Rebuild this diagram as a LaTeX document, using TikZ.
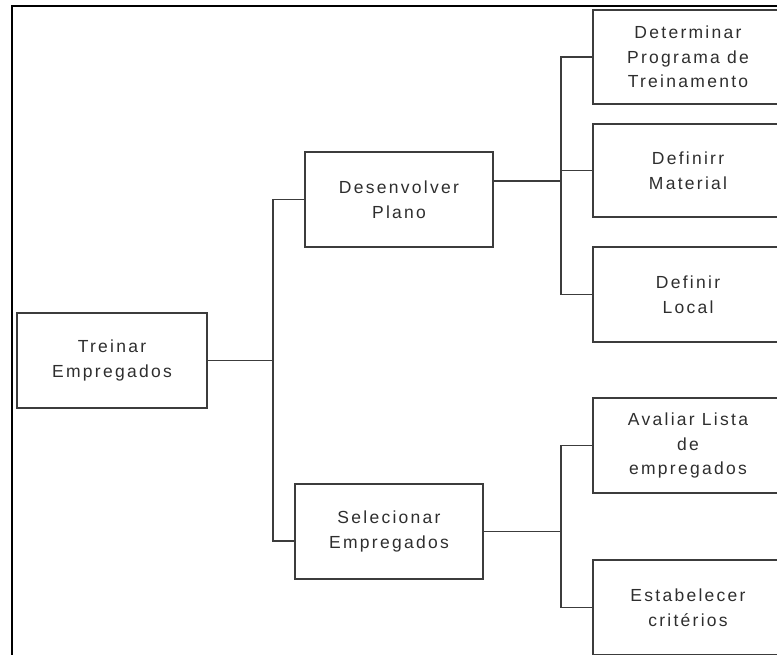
\documentclass[tikz,border=0pt]{standalone}
\usepackage{fontspec}
\setmainfont{Liberation Sans}[LetterSpace=13]
\definecolor{boxgray}{HTML}{3C3C3C}
\definecolor{textgray}{HTML}{2E2E2E}
\begin{document}
\begin{tikzpicture}[x=1pt,y=-1pt,
  box/.style={draw=boxgray, line width=1.3pt, minimum width=190pt, minimum height=95pt,
    inner sep=0pt, align=center, text=textgray, font=\fontsize{17.5}{24.5}\selectfont},
  link/.style={draw=boxgray, line width=1.3pt},
  frame/.style={draw=black, line width=2pt}]
\useasboundingbox (0,0) rectangle (777,654);
\clip (0,0) rectangle (777,654);

% outer frame (top and left edges)
\draw[frame] (12,660) -- (12,6) -- (790,6);

% boxes
\node[box] (treinar) at (112,360.5) {Treinar\\Empregados};
\node[box, minimum width=188pt] (desenv) at (399,199.5) {Desenvolver\\Plano};
\node[box, minimum width=188pt] (selec) at (389,531.5) {Selecionar\\Empregados};
\node[box, minimum height=94pt] (determ) at (688,57) {Determinar\\Programa de\\Treinamento};
\node[box, minimum height=93pt] (material) at (688,170.5) {Definirr\\Material};
\node[box] (local) at (688,294.5) {Definir\\Local};
\node[box] (avaliar) at (688,445.5) {Avaliar Lista\\de\\empregados};
\node[box] (estab) at (688,607.5) {Estabelecer\\critérios};

% junction points
\coordinate (j1) at (273,360.5);
\coordinate (j2) at (561,181);
\coordinate (j3) at (561,531.5);

% connectors
\draw[link] (treinar.east) -- (j1);
\draw[link] (desenv.west) -| (j1);
\draw[link] ([yshift=-9.5pt]selec.west) -| (j1);

\draw[link] ([yshift=18.5pt]desenv.east) -- (j2);
\draw[link] (determ.west) -| (j2);
\draw[link] (material.west) -| (j2);
\draw[link] (local.west) -| (j2);

\draw[link] (selec.east) -- (j3);
\draw[link] (avaliar.west) -| (j3);
\draw[link] (estab.west) -| (j3);
\end{tikzpicture}
\end{document}
